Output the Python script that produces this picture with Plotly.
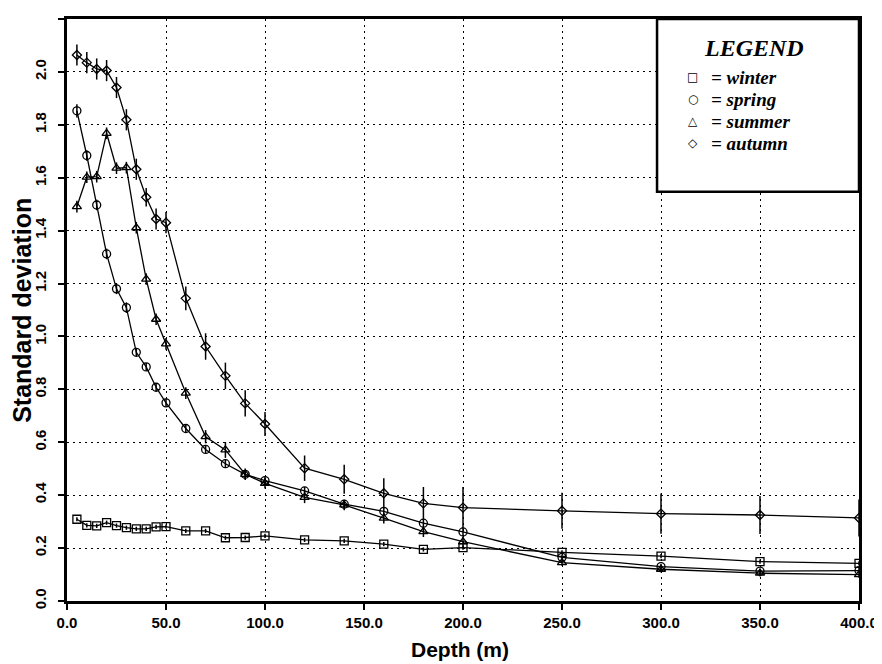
import plotly.graph_objects as go

depth = [5, 10, 15, 20, 25, 30, 35, 40, 45, 50, 60, 70, 80, 90, 100,
         120, 140, 160, 180, 200, 250, 300, 350, 400]

winter = [0.309, 0.286, 0.284, 0.296, 0.285, 0.277, 0.273, 0.273, 0.280, 0.281,
          0.265, 0.265, 0.239, 0.240, 0.246, 0.231, 0.227, 0.215, 0.195, 0.202,
          0.184, 0.170, 0.149, 0.142]
winter_err = [0.008] * 24

spring = [1.853, 1.684, 1.497, 1.312, 1.180, 1.109, 0.940, 0.885, 0.808, 0.749,
          0.652, 0.573, 0.519, 0.479, 0.455, 0.416, 0.366, 0.339, 0.294, 0.261,
          0.165, 0.130, 0.113, 0.115]
spring_err = [0.025, 0.02, 0.02, 0.02, 0.02, 0.02, 0.015, 0.015, 0.015, 0.015,
              0.015, 0.015, 0.015, 0.015, 0.015, 0.015, 0.015, 0.015, 0.015, 0.015,
              0.01, 0.01, 0.01, 0.01]

summer = [1.491, 1.602, 1.604, 1.768, 1.636, 1.638, 1.411, 1.217, 1.065, 0.972,
          0.786, 0.621, 0.571, 0.479, 0.445, 0.392, 0.363, 0.313, 0.262, 0.224,
          0.145, 0.120, 0.105, 0.100]
summer_err = [0.022, 0.022, 0.022, 0.022, 0.022, 0.022, 0.022, 0.022, 0.022, 0.022,
              0.022, 0.025, 0.03, 0.022, 0.02, 0.022, 0.02, 0.02, 0.02, 0.02,
              0.012, 0.012, 0.012, 0.012]

autumn = [2.064, 2.035, 2.011, 2.005, 1.941, 1.819, 1.632, 1.526, 1.444, 1.430,
          1.144, 0.962, 0.851, 0.747, 0.669, 0.502, 0.460, 0.407, 0.369, 0.353,
          0.341, 0.330, 0.325, 0.314]
autumn_err = [0.04, 0.04, 0.04, 0.04, 0.04, 0.04, 0.04, 0.035, 0.04, 0.04,
              0.045, 0.05, 0.05, 0.05, 0.045, 0.048, 0.055, 0.057, 0.062, 0.078,
              0.068, 0.076, 0.072, 0.07]

series = [
    ("winter", winter, winter_err, "square-open", 8),
    ("spring", spring, spring_err, "circle-open", 8),
    ("summer", summer, summer_err, "triangle-up-open", 8),
    ("autumn", autumn, autumn_err, "diamond-open", 7),
]

y_ticks = [round(0.2 * i, 1) for i in range(12)]
x_ticks = [0, 50, 100, 150, 200, 250, 300, 350, 400]

fig = go.Figure()
for name, vals, errs, sym, size in series:
    fig.add_trace(go.Scatter(
        x=depth, y=vals, name=name, mode="lines+markers",
        line=dict(color="black", width=1.3),
        marker=dict(symbol=sym, size=size, color="black", line=dict(width=1.3, color="black")),
        error_y=dict(type="data", array=errs, visible=True, color="black",
                     thickness=1.5, width=0),
        showlegend=False,
    ))

axis_font = dict(family="Liberation Sans", size=15, color="black")
common = dict(
    showgrid=True, gridcolor="black", gridwidth=1, griddash="2px,4px",
    showline=True, linecolor="black", linewidth=3, mirror=True,
    ticks="outside", ticklen=6, tickwidth=2, tickcolor="black",
    tickfont=axis_font, zeroline=False, automargin=False,
)
fig.update_xaxes(
    range=[0, 400], tickvals=x_ticks, ticktext=[f"<b>{v:.1f}</b>" for v in x_ticks],
    **common,
)
fig.update_yaxes(
    range=[0, 2.2], tickvals=y_ticks, ticktext=[f"<b>{v:.1f}</b>" for v in y_ticks],
    tickangle=-90, ticklabelstandoff=6,
    **common,
)

# axis titles
fig.add_annotation(xref="paper", yref="paper", x=0.496, y=-0.084, showarrow=False,
                   text="<b>Depth (m)</b>", xanchor="center", yanchor="middle",
                   font=dict(family="Liberation Sans", size=21, color="black"))
fig.add_annotation(xref="paper", yref="paper", x=-0.057, y=0.5, showarrow=False,
                   text="<b>Standard deviation</b>", textangle=-90,
                   xanchor="center", yanchor="middle",
                   font=dict(family="Liberation Sans", size=25, color="black"))

# legend box
fig.add_shape(type="rect", xref="paper", yref="paper", x0=0.745, x1=1.0, y0=0.703, y1=1.0,
              fillcolor="white", line=dict(color="black", width=2.5), layer="above")

fig.add_annotation(xref="paper", yref="paper", x=0.867, y=0.950, showarrow=False,
                   text="<b><i>LEGEND</i></b>", xanchor="center", yanchor="middle",
                   font=dict(family="Liberation Serif", size=24, color="black"))
leg_syms = ["□", "○", "△", "◇"]
leg_names = ["winter", "spring", "summer", "autumn"]
leg_y = [0.9003, 0.8625, 0.8247, 0.7869]
for s, n, yy in zip(leg_syms, leg_names, leg_y):
    fig.add_annotation(xref="paper", yref="paper", x=0.790, y=yy, showarrow=False,
                       text=s, xanchor="center", yanchor="middle",
                       font=dict(family="DejaVu Sans", size=12, color="black"))
    fig.add_annotation(xref="paper", yref="paper", x=0.811, y=yy, showarrow=False,
                       text=f"<b><i>= {n}</i></b>", xanchor="left", yanchor="middle",
                       font=dict(family="Liberation Serif", size=19, color="black"))

# page body has an 8px default margin, so the figure is offset by 8px
fig.update_layout(
    width=874, height=656,
    margin=dict(l=59, r=23, t=11, b=63),
    plot_bgcolor="white", paper_bgcolor="white",
    showlegend=False,
)

fig.write_html("out.html")
